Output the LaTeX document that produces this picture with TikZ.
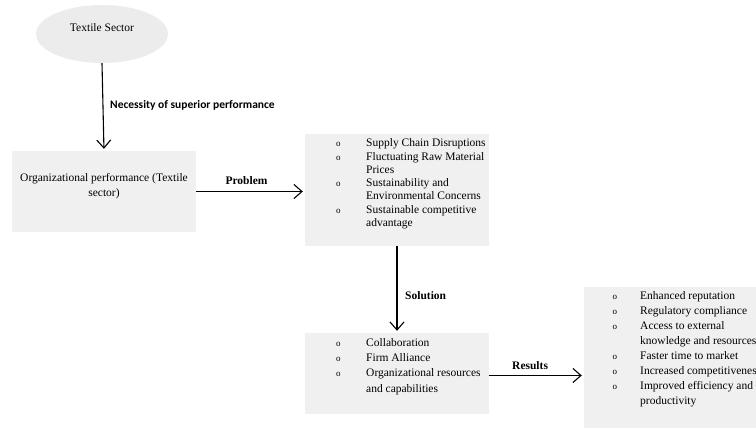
\documentclass[tikz,border=0pt]{standalone}
\usepackage{fontspec}
\setmainfont{Liberation Serif}
\newfontfamily\calib{Carlito}
\usetikzlibrary{arrows.meta,shapes.geometric}
\definecolor{boxgray}{RGB}{240,240,240}
\definecolor{ellgray}{RGB}{236,236,236}
\newcommand{\bl}{{\fontsize{9}{9}\selectfont o}}
\begin{document}
\begin{tikzpicture}[x=1pt,y=-1pt,
  box/.style={draw=none,fill=boxgray,rectangle,inner sep=0pt},
  arr/.style={line width=1.1pt,-{Straight Barb[length=8pt,width=14pt]},shorten >=2pt},
  txt/.style={inner sep=0pt,font=\fontsize{11.5}{15}\selectfont},
  lab/.style={inner sep=0pt,font=\fontsize{11.5}{14}\selectfont\bfseries},
]
\useasboundingbox (0,0) rectangle (756,428);
\clip (0,0) rectangle (756,428);
% shapes
\node[ellipse,fill=ellgray,minimum width=132pt,minimum height=58pt,inner sep=0pt] (ts) at (102,34) {};
\node[txt,anchor=base] (tst) at (102,32) {Textile Sector};
\node[box,minimum width=184pt,minimum height=81pt] (b1) at (104,191.5) {};
\node[box,minimum width=184pt,minimum height=112pt] (b2) at (397,190) {};
\node[box,minimum width=184pt,minimum height=81pt] (b3) at (397,373.5) {};
\node[box,minimum width=186pt,minimum height=153pt] (b4) at (677,363.5) {};
% texts
\node[txt,anchor=base] (t1) at (104,181.5) {\begin{tabular}[t]{@{}c@{}}Organizational performance (Textile\\ sector)\end{tabular}};
\node[inner sep=0pt,anchor=base west,font=\fontsize{11.5}{13.3}\selectfont] (t2) at (336,146.8) {\begin{tabular}[t]{@{}p{30pt}@{}l@{}}
\bl & Supply Chain Disruptions\\
\bl & Fluctuating Raw Material\\
 & Prices\\
\bl & Sustainability and\\
 & Environmental Concerns\\
\bl & Sustainable competitive\\
 & advantage
\end{tabular}};
\node[inner sep=0pt,anchor=base west,font=\fontsize{11.5}{15.3}\selectfont] (t3) at (336,346.1) {\begin{tabular}[t]{@{}p{30pt}@{}l@{}}
\bl & Collaboration\\
\bl & Firm Alliance\\
\bl & Organizational resources\\
 & and capabilities
\end{tabular}};
\node[inner sep=0pt,anchor=base west,font=\fontsize{11.5}{15}\selectfont] (t4) at (612.5,299.8) {\begin{tabular}[t]{@{}p{27.5pt}@{}l@{}}
\bl & Enhanced reputation\\
\bl & Regulatory compliance\\
\bl & Access to external\\
 & knowledge and resources\\
\bl & Faster time to market\\
\bl & Increased competitiveness\\
\bl & Improved efficiency and\\
 & productivity
\end{tabular}};
% connectors
\draw[arr] (ts.south) -- (b1.north);
\draw[arr] (b1.east) -- (b1.east -| b2.west);
\draw[arr] (b2.south) -- (b3.north);
\draw[arr] ([yshift=-2pt]b3.east) -- ([yshift=-2pt]b3.east -| b4.west);
% labels
\node[inner sep=0pt,anchor=base west,font=\calib\fontsize{11.5}{14}\selectfont\bfseries] (l1) at (110,109) {Necessity of superior performance};
\node[lab,anchor=base] (l2) at (246.5,184.5) {Problem};
\node[lab,anchor=base west] (l3) at (405,299) {Solution};
\node[lab,anchor=base west] (l4) at (512,369) {Results};
\end{tikzpicture}
\end{document}
